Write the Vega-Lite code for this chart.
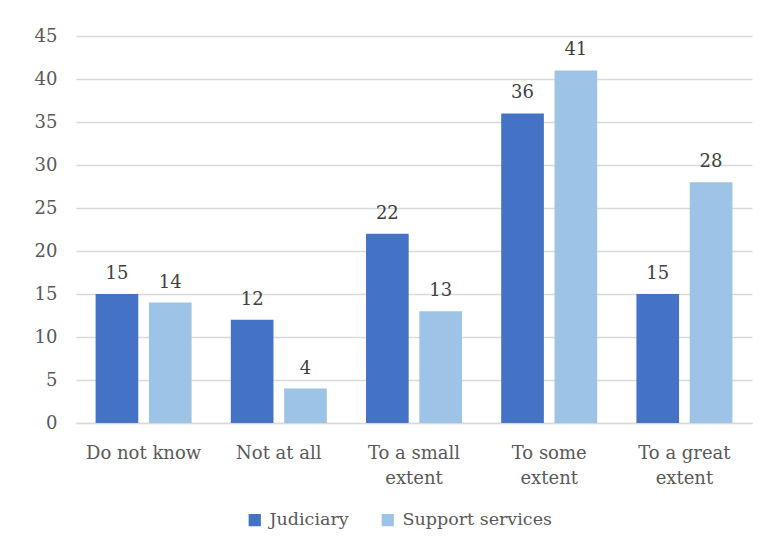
{
  "$schema": "https://vega.github.io/schema/vega-lite/v6.json",
  "width": 676,
  "height": 387,
  "autosize": {"type": "none"},
  "padding": {"left": 76, "top": 36, "right": 23, "bottom": 114},
  "background": "white",
  "config": {
    "view": {"stroke": null},
    "font": "DejaVu Serif",
    "axis": {"labelFont": "DejaVu Serif", "labelColor": "#595959", "labelFontSize": 18},
    "legend": {"labelFont": "DejaVu Serif", "labelColor": "#595959", "labelFontSize": 17.5}
  },
  "data": {
    "values": [
      {"category": "Do not know", "group": "Judiciary", "value": 15},
      {"category": "Do not know", "group": "Support services", "value": 14},
      {"category": "Not at all", "group": "Judiciary", "value": 12},
      {"category": "Not at all", "group": "Support services", "value": 4},
      {"category": "To a small extent", "group": "Judiciary", "value": 22},
      {"category": "To a small extent", "group": "Support services", "value": 13},
      {"category": "To some extent", "group": "Judiciary", "value": 36},
      {"category": "To some extent", "group": "Support services", "value": 41},
      {"category": "To a great extent", "group": "Judiciary", "value": 15},
      {"category": "To a great extent", "group": "Support services", "value": 28}
    ]
  },
  "encoding": {
    "x": {
      "field": "category",
      "type": "nominal",
      "sort": null,
      "scale": {"paddingInner": 0.29, "paddingOuter": 0.145},
      "axis": {
        "title": null,
        "labelAngle": 0,
        "ticks": false,
        "domainColor": "#D9D9D9",
        "domainWidth": 1.5,
        "labelPadding": 35,
        "labelLineHeight": 25,
        "labelBaseline": "alphabetic",
        "labelExpr": "datum.label == 'To a small extent' ? ['To a small', 'extent'] : datum.label == 'To some extent' ? ['To some', 'extent'] : datum.label == 'To a great extent' ? ['To a great', 'extent'] : datum.label"
      }
    },
    "xOffset": {"field": "group", "type": "nominal", "scale": {"paddingInner": 0.2, "paddingOuter": 0}},
    "y": {
      "field": "value",
      "type": "quantitative",
      "scale": {"domain": [0, 45]},
      "axis": {
        "title": null,
        "values": [0, 5, 10, 15, 20, 25, 30, 35, 40, 45],
        "labelOverlap": false,
        "ticks": false,
        "domain": false,
        "gridColor": "#D9D9D9",
        "gridWidth": 1.5,
        "labelPadding": 19
      }
    }
  },
  "layer": [
    {
      "mark": {"type": "bar"},
      "encoding": {
        "color": {
          "field": "group",
          "type": "nominal",
          "scale": {"domain": ["Judiciary", "Support services"], "range": ["#4472C4", "#9DC3E6"]},
          "legend": {
            "title": null,
            "orient": "none",
            "direction": "horizontal",
            "legendX": 170,
            "legendY": 475,
            "symbolType": "square",
            "symbolSize": 150,
            "symbolStrokeWidth": 0,
            "columnPadding": 30,
            "labelOffset": 6
          }
        }
      }
    },
    {
      "mark": {"type": "text", "baseline": "bottom", "dy": -11, "fontSize": 18, "color": "#404040"},
      "encoding": {"text": {"field": "value", "type": "quantitative"}}
    }
  ]
}
